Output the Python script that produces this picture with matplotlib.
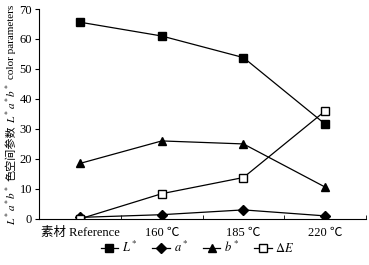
import numpy as np
import matplotlib.pyplot as plt

plt.rcParams['font.family'] = ['Liberation Serif', 'Noto Sans CJK SC']
plt.rcParams['mathtext.fontset'] = 'stix'

# data
categories = ['素材 Reference', '160 ℃', '185 ℃', '220 ℃']
L_star = [65.6, 61.0, 53.8, 31.6]
a_star = [0.5, 1.4, 3.0, 1.0]
b_star = [18.5, 26.0, 25.0, 10.6]
delta_E = [0.0, 8.4, 13.8, 36.0]

x = np.arange(len(categories))

fig = plt.figure(figsize=(3.69, 2.65), dpi=100)
ax = fig.add_axes([0.106, 0.174, 0.886, 0.792])

ax.plot(x, L_star, color='black', lw=0.9, marker='s', ms=5.5,
        mfc='black', mec='black', label='$L^*$')
ax.plot(x, a_star, color='black', lw=0.9, marker='D', ms=5,
        mfc='black', mec='black', label='$a^*$')
ax.plot(x, b_star, color='black', lw=0.9, marker='^', ms=6,
        mfc='black', mec='black', label='$b^*$')
ax.plot(x, delta_E, color='black', lw=0.9, marker='s', ms=6,
        mfc='white', mec='black', label=r'$\Delta E$')

ax.set_xlim(-0.5, 3.5)
ax.set_ylim(0, 70)
ax.set_yticks(np.arange(0, 71, 10))
ax.set_xticks(x)
ax.set_xticklabels(categories, fontsize=9)
ax.set_xticks(np.arange(-0.5, 3.6, 1), minor=True)
ax.tick_params(axis='x', which='major', length=0, pad=6)
ax.tick_params(axis='x', which='minor', direction='in', length=3)
ax.tick_params(axis='y', labelsize=9, length=3, pad=2)
for s in ['top', 'right']:
    ax.spines[s].set_visible(False)
for s in ['left', 'bottom']:
    ax.spines[s].set_linewidth(0.8)

# y label built from pieces so the Chinese text gets a proper font
pieces = [('$L^*a^*b^*$', ['Liberation Serif']),
          ('色空间参数', ['Noto Sans CJK SC']),
          ('$L^*a^*b^*$', ['Liberation Serif']),
          ('color parameters', ['Liberation Serif'])]
gap = 3 / 265
fig.canvas.draw()
renderer = fig.canvas.get_renderer()
texts = []
for s, fam in pieces:
    t = fig.text(0.03, 0, s, rotation=90, ha='center', va='bottom',
                 fontsize=8, family=fam)
    texts.append(t)
heights = [t.get_window_extent(renderer).height / fig.bbox.height
           for t in texts]
y0 = 0.566 - (sum(heights) + gap * (len(texts) - 1)) / 2
for t, h in zip(texts, heights):
    t.set_y(y0)
    y0 += h + gap

fig.legend(loc='lower center', bbox_to_anchor=(0.535, -0.005), ncol=4,
           frameon=False, fontsize=9, handlelength=1.4, columnspacing=1.2,
           handletextpad=0.3)

fig.savefig('out.png', dpi=100)
